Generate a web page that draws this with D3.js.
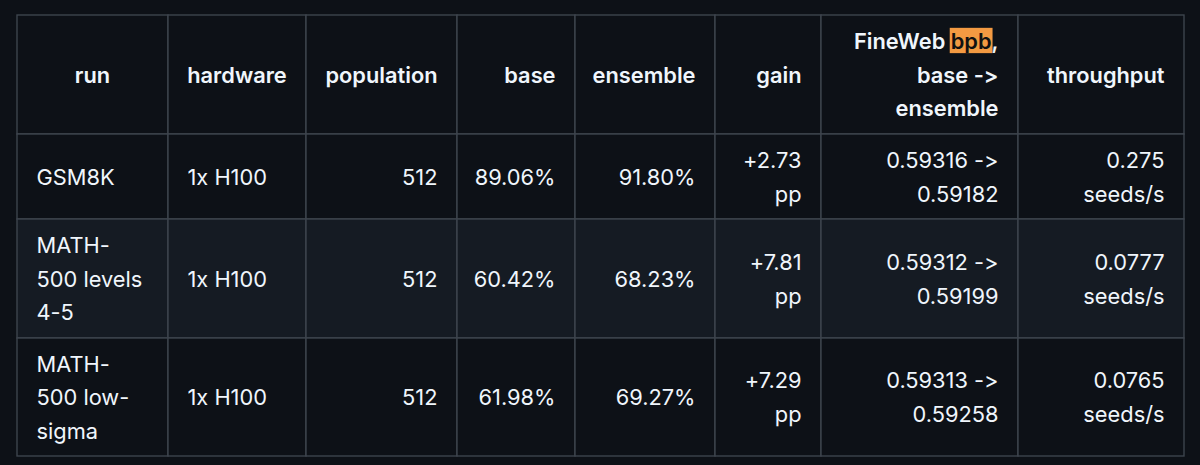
<!DOCTYPE html>
<html>
<head>
<meta charset="utf-8">
<script src="https://cdn.jsdelivr.net/npm/d3@7"></script>
<style>
  html, body { margin: 0; padding: 0; background: #0d1117; }
  svg { display: block; }
  text { font-feature-settings: "calt" 0, "liga" 0; font-variant-ligatures: none; }
</style>
</head>
<body>
<svg id="chart" width="1200" height="465"></svg>
<script>
// ---- data ----
const headers = [
  ["run"],
  ["hardware"],
  ["population"],
  ["base"],
  ["ensemble"],
  ["gain"],
  ["FineWeb bpb,", "base ->", "ensemble"],
  ["throughput"]
];
const highlightWord = "bpb";
const runs = [
  ["GSM8K"],
  ["MATH-", "500 levels", "4-5"],
  ["MATH-", "500 low-", "sigma"]
];
const hardware = ["1x H100", "1x H100", "1x H100"];
const population = [512, 512, 512];
const baseAcc = [89.06, 60.42, 61.98];
const ensembleAcc = [91.80, 68.23, 69.27];
const gainPP = [2.73, 7.81, 7.29];
const bpbBase = [0.59316, 0.59312, 0.59313];
const bpbEnsemble = [0.59182, 0.59199, 0.59258];
const throughput = ["0.275", "0.0777", "0.0765"];

// ---- layout ----
const colWidths = [151, 138, 151, 118, 140, 106, 197, 166];
const rowHeights = [119, 85, 119, 118];
const tableLeft = 17, tableTop = 15;
const fontSize = 21.8, lineH = 33.6, padX = 19.5;
const headAlign = ["middle", "middle", "end", "end", "end", "end", "end", "end"];
const bodyAlign = ["start", "start", "end", "end", "end", "end", "end", "end"];
const bg = "#0d1117", stripe = "#151b23", border = "#3d444d", fg = "#f0f6fc";

const pct = d3.format(".2f");
const rows = runs.map((r, i) => [
  r,
  [hardware[i]],
  [String(population[i])],
  [pct(baseAcc[i]) + "%"],
  [pct(ensembleAcc[i]) + "%"],
  ["+" + pct(gainPP[i]), "pp"],
  [d3.format(".5f")(bpbBase[i]) + " ->", d3.format(".5f")(bpbEnsemble[i])],
  [throughput[i], "seeds/s"]
]);
const allRows = [headers, ...rows];

const xEdges = [tableLeft, ...d3.cumsum(colWidths).map(v => v + tableLeft)];
const yEdges = [tableTop, ...d3.cumsum(rowHeights).map(v => v + tableTop)];
const x = d3.scaleOrdinal().domain(d3.range(colWidths.length)).range(xEdges.slice(0, -1));
const y = d3.scaleOrdinal().domain(d3.range(rowHeights.length)).range(yEdges.slice(0, -1));

const svg = d3.select("#chart");
svg.append("rect").attr("width", 1200).attr("height", 465).attr("fill", bg);

const cells = [];
allRows.forEach((row, ri) => row.forEach((lines, ci) => cells.push({ ri, ci, lines })));

const g = svg.selectAll("g.cell").data(cells).join("g").attr("class", "cell");

g.append("rect")
  .attr("x", d => x(d.ci))
  .attr("y", d => y(d.ri))
  .attr("width", d => colWidths[d.ci])
  .attr("height", d => rowHeights[d.ri])
  .attr("fill", d => (d.ri === 2 ? stripe : bg))
  .attr("stroke", border)
  .attr("stroke-width", 1.4);

const text = g.append("text")
  .attr("font-family", "Inter, 'Noto Sans', sans-serif")
  .attr("font-size", fontSize)
  .attr("font-weight", d => (d.ri === 0 ? 600 : 400))
  .attr("fill", fg)
  .attr("text-anchor", d => (d.ri === 0 ? headAlign[d.ci] : bodyAlign[d.ci]));

text.selectAll("tspan")
  .data(d => d.lines.map((l, i) => ({ l, i, d })))
  .join("tspan")
  .attr("x", t => {
    const a = t.d.ri === 0 ? headAlign[t.d.ci] : bodyAlign[t.d.ci];
    const x0 = x(t.d.ci), w = colWidths[t.d.ci];
    return a === "start" ? x0 + padX : a === "end" ? x0 + w - padX : x0 + w / 2;
  })
  .attr("y", t => {
    const rc = y(t.d.ri) + rowHeights[t.d.ri] / 2;
    const top = rc - t.d.lines.length * lineH / 2;
    return top + t.i * lineH + 0.745 * lineH;
  })
  .text(t => t.l);

// highlight "bpb" in the header
text.filter(d => d.ri === 0).each(function(d) {
  const node = this;
  const full = d.lines.join("");
  const idx = full.indexOf(highlightWord);
  if (idx < 0) return;
  const s = node.getStartPositionOfChar(idx);
  const e = node.getEndPositionOfChar(idx + highlightWord.length - 1);
  const gg = d3.select(node.parentNode);
  gg.insert("rect", "text")
    .attr("x", s.x - 1)
    .attr("y", s.y - 21.3)
    .attr("width", e.x - s.x + 2)
    .attr("height", 25.3)
    .attr("fill", "#f39a42");
  const line0 = d.lines[0];
  const li = line0.indexOf(highlightWord);
  const ts = d3.select(node).select("tspan");
  const before = line0.slice(0, li), after = line0.slice(li + highlightWord.length);
  ts.text(null);
  ts.append("tspan").text(before);
  ts.append("tspan").attr("fill", "#111").text(highlightWord);
  ts.append("tspan").text(after);
});
</script>
</body>
</html>
